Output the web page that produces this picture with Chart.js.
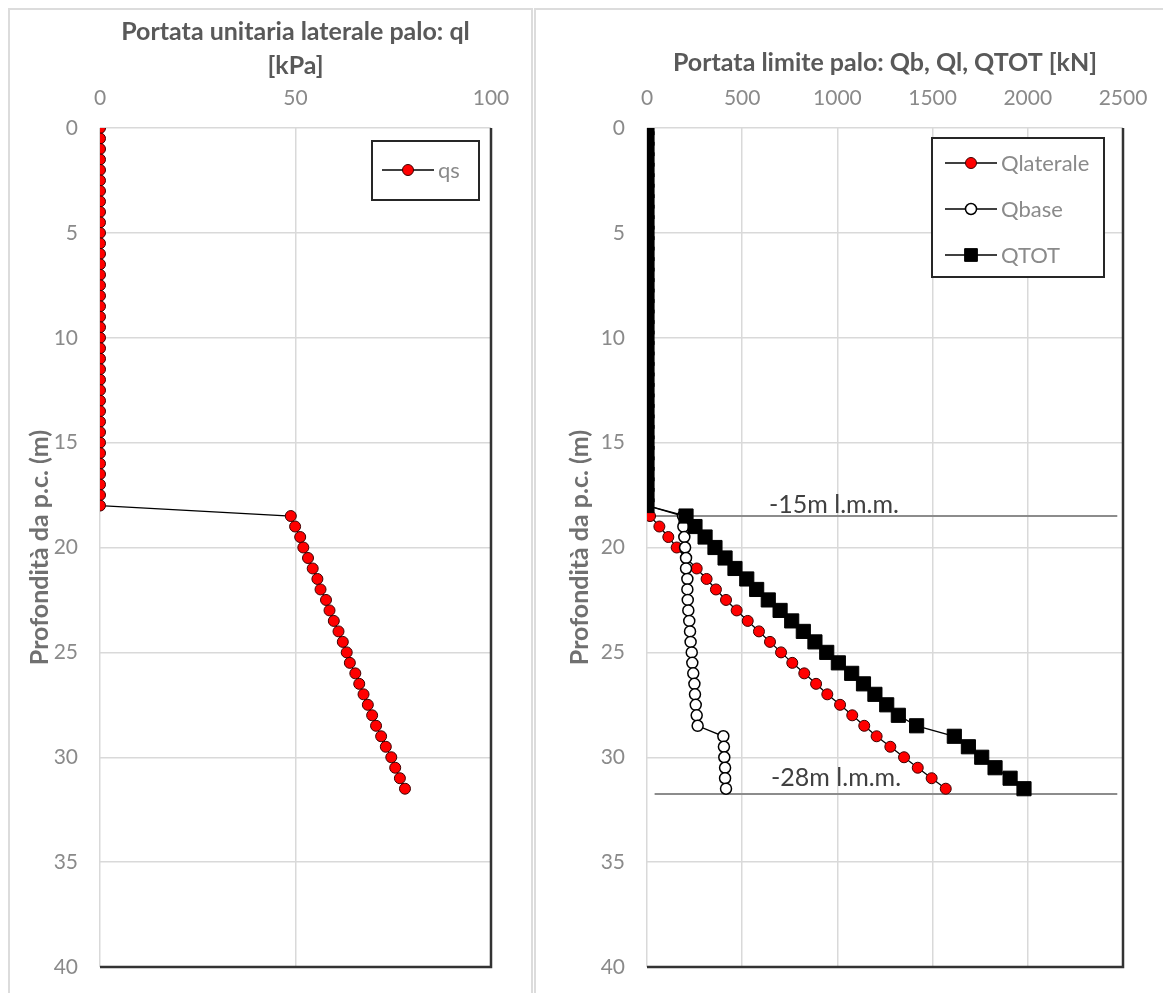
<!DOCTYPE html>
<html>
<head>
<meta charset="utf-8">
<script src="https://cdn.jsdelivr.net/npm/chart.js@4.4.1/dist/chart.umd.min.js"></script>
<style>
  html, body { margin: 0; padding: 0; background: #fff; }
  body { width: 1163px; height: 993px; position: relative; overflow: hidden; }
  .frame { position: absolute; top: 8px; height: 1000px; border: 2px solid #dcdcdc; box-sizing: border-box; }
  #frameL { left: 8px; width: 525px; }
  #frameR { left: 534px; width: 640px; }
  canvas { position: absolute; top: 0; }
  #cL { left: 0; }
  #cR { left: 535px; }
</style>
</head>
<body>
<div class="frame" id="frameL"></div>
<div class="frame" id="frameR"></div>
<canvas id="cL" width="533" height="993" style="width:533px;height:993px"></canvas>
<canvas id="cR" width="628" height="993" style="width:628px;height:993px"></canvas>
<script>
/* depth below ground level (m) */
const depth = [0, 0.5, 1, 1.5, 2, 2.5, 3, 3.5, 4, 4.5, 5, 5.5, 6, 6.5, 7, 7.5, 8, 8.5, 9, 9.5,
    10, 10.5, 11, 11.5, 12, 12.5, 13, 13.5, 14, 14.5, 15, 15.5, 16, 16.5, 17, 17.5, 18,
    18.5, 19, 19.5, 20, 20.5, 21, 21.5, 22, 22.5, 23, 23.5, 24, 24.5, 25, 25.5, 26, 26.5,
    27, 27.5, 28, 28.5, 29, 29.5, 30, 30.5, 31, 31.5];

/* left chart: unit shaft resistance [kPa] */
const qs = [0, 0, 0, 0, 0, 0, 0, 0, 0, 0, 0, 0, 0, 0, 0, 0, 0, 0, 0, 0,
    0, 0, 0, 0, 0, 0, 0, 0, 0, 0, 0, 0, 0, 0, 0, 0, 0,
    48.8, 49.9, 51.2, 52.0, 53.2, 54.4, 55.6, 56.4, 57.8, 58.7, 59.8, 61.0, 62.1, 63.1,
    63.9, 65.3, 66.3, 67.4, 68.5, 69.6, 70.6, 71.9, 73.1, 74.5, 75.5, 76.7, 78.0];

/* right chart: limit capacities [kN] */
const qLaterale = [0, 0, 0, 0, 0, 0, 0, 0, 0, 0, 0, 0, 0, 0, 0, 0, 0, 0, 0, 0,
    0, 0, 0, 0, 0, 0, 0, 0, 0, 0, 0, 0, 0, 0, 0, 0, 0,
    16, 65, 112, 156, 205, 261, 313, 362, 415, 471, 529, 588, 646, 704,
    763, 826, 888, 947, 1014, 1078, 1141, 1206, 1278, 1350, 1422, 1495, 1569];
const qBase = [0, 0, 0, 0, 0, 0, 0, 0, 0, 0, 0, 0, 0, 0, 0, 0, 0, 0, 0, 0,
    0, 0, 0, 0, 0, 0, 0, 0, 0, 0, 0, 0, 0, 0, 0, 0, 0,
    189, 191, 196, 200, 205, 205, 212, 212, 214, 217, 222, 226, 229, 235,
    238, 243, 249, 252, 256, 261, 266, 401, 404, 406, 410, 410, 415];
const qTot = [0, 0, 0, 0, 0, 0, 0, 0, 0, 0, 0, 0, 0, 0, 0, 0, 0, 0, 0, 0,
    0, 0, 0, 0, 0, 0, 0, 0, 0, 0, 0, 0, 0, 0, 0, 0, 0,
    205, 252, 305, 357, 410, 462, 524, 576, 637, 699, 760, 821, 882, 944,
    1005, 1075, 1137, 1197, 1259, 1320, 1416, 1614, 1688, 1758, 1828, 1907, 1980];

/* sea-level reference lines (depth, start/end capacity) and labels */
const refDepth = [18.5, 31.75];
const refFrom = [15, 40];
const refTo = [2470, 2470];
const refText = ['-15m l.m.m.', '-28m l.m.m.'];
const refTextX = [982, 993];
const refTextY = [17.95, 31.0];

const FONT = 'Lato, "Open Sans", sans-serif';
const pts = vals => vals.map((v, i) => ({ x: v, y: depth[i] }));

/* ── plot frame: dark axis lines on right and bottom ─────────────── */
const frameLines = {
    id: 'frameLines',
    beforeDatasetsDraw(chart) {
        const { ctx, chartArea: a } = chart;
        ctx.save();
        ctx.strokeStyle = '#333';
        ctx.lineWidth = 2.5;
        ctx.beginPath();
        ctx.moveTo(a.left, a.bottom);
        ctx.lineTo(a.right, a.bottom);
        ctx.lineTo(a.right, a.top);
        ctx.stroke();
        ctx.restore();
    }
};

/* ── text labels next to the reference lines ─────────────────────── */
const refLabels = {
    id: 'refLabels',
    afterDatasetsDraw(chart, args, opts) {
        if (!opts.text) return;
        const { ctx, scales } = chart;
        ctx.save();
        ctx.font = '25px ' + FONT;
        ctx.fillStyle = '#404040';
        ctx.textAlign = 'center';
        ctx.textBaseline = 'middle';
        opts.text.forEach((t, i) => {
            ctx.fillText(t, scales.x.getPixelForValue(opts.x[i]), scales.y.getPixelForValue(opts.y[i]));
        });
        ctx.restore();
    }
};

/* ── boxed legend inside the plot, Excel style ───────────────────── */
const boxLegend = {
    id: 'boxLegend',
    afterDraw(chart, args, opts) {
        const { ctx } = chart;
        const items = chart.data.datasets.filter(d => d.inLegend);
        const b = opts;
        ctx.save();
        ctx.strokeStyle = '#262626';
        ctx.lineWidth = 2;
        ctx.fillStyle = '#fff';
        ctx.fillRect(b.x, b.y, b.w, b.h);
        ctx.strokeRect(b.x, b.y, b.w, b.h);
        items.forEach((d, i) => {
            const cy = b.y + b.first + i * b.row;
            const x0 = b.x + b.pad;
            ctx.strokeStyle = d.borderColor;
            ctx.lineWidth = d.borderWidth;
            ctx.beginPath();
            ctx.moveTo(x0, cy);
            ctx.lineTo(x0 + 52, cy);
            ctx.stroke();
            ctx.fillStyle = d.pointBackgroundColor;
            ctx.strokeStyle = d.pointBorderColor;
            ctx.lineWidth = d.pointBorderWidth;
            Chart.helpers.drawPoint(ctx, {
                pointStyle: d.pointStyle, radius: d.legendRadius || d.pointRadius,
                rotation: 0, borderWidth: d.pointBorderWidth
            }, x0 + 26, cy);
            ctx.fillStyle = '#8a8a8a';
            ctx.font = '22px ' + FONT;
            ctx.textAlign = 'left';
            ctx.textBaseline = 'middle';
            ctx.fillText(d.label, x0 + 56, cy + 1);
        });
        ctx.restore();
    }
};

function depthChart(canvasId, cfg) {
    new Chart(document.getElementById(canvasId), {
        type: 'scatter',
        data: { datasets: cfg.datasets },
        options: {
            responsive: false,
            maintainAspectRatio: false,
            animation: false,
            layout: { padding: { left: 0, top: 0, right: cfg.padRight, bottom: 26 } },
            plugins: {
                legend: { display: false },
                tooltip: { enabled: false },
                boxLegend: cfg.legend,
                refLabels: cfg.refLabels || {}
            },
            scales: {
                x: {
                    type: 'linear',
                    position: 'top',
                    min: 0, max: cfg.xMax,
                    afterFit: s => { s.height = 128; s.paddingLeft = 0; s.paddingRight = 0; },
                    ticks: {
                        stepSize: cfg.xStep, padding: 17, color: '#8a8a8a',
                        font: { family: FONT, size: 21 }, callback: v => String(v)
                    },
                    grid: { color: '#d9d9d9', lineWidth: 1.5, drawTicks: false },
                    border: { display: false },
                    title: {
                        display: true,
                        text: cfg.title,
                        color: '#595959',
                        font: { family: FONT, size: 25, weight: 'bold', lineHeight: '34px' },
                        padding: { top: cfg.titleTop, bottom: 0 }
                    }
                },
                y: {
                    type: 'linear',
                    reverse: true,
                    min: 0, max: 40,
                    afterFit: s => { s.width = cfg.yWidth; s.paddingTop = 0; s.paddingBottom = 0; },
                    ticks: {
                        stepSize: 5, padding: 22, color: '#8a8a8a',
                        font: { family: FONT, size: 21 }, callback: v => String(v)
                    },
                    grid: { color: '#d9d9d9', lineWidth: 1.5, drawTicks: false },
                    border: { display: false },
                    title: {
                        display: true,
                        text: 'Profondità da p.c. (m)',
                        color: '#707070',
                        font: { family: FONT, size: 25, weight: 'bold', lineHeight: '30px' },
                        padding: { top: cfg.yTitleX - 15, bottom: 0 }
                    }
                }
            }
        },
        plugins: [frameLines, refLabels, boxLegend]
    });
}

const lineStyle = { showLine: true, borderColor: '#000', borderWidth: 1.3, pointBorderColor: '#000', pointBorderWidth: 1 };

/* ── left: unit lateral resistance ───────────────────────────────── */
depthChart('cL', {
    xMax: 100, xStep: 50, padRight: 42, yWidth: 100, yTitleX: 40, titleTop: 15,
    title: ['Portata unitaria laterale palo: ql', '[kPa]'],
    legend: { x: 372, y: 141, w: 107, h: 59, pad: 10, first: 29, row: 46 },
    datasets: [
        Object.assign({}, lineStyle, {
            label: 'qs', data: pts(qs), inLegend: true,
            pointStyle: 'circle', pointRadius: 5.5, pointBackgroundColor: '#ff0000', pointBorderColor: '#3a0000'
        })
    ]
});

/* ── right: limit capacities ─────────────────────────────────────── */
const refSets = refDepth.map((d, i) => ({
    label: refText[i], data: [{ x: refFrom[i], y: d }, { x: refTo[i], y: d }],
    showLine: true, borderColor: '#8c8c8c', borderWidth: 2, pointRadius: 0, order: 5
}));

depthChart('cR', {
    xMax: 2500, xStep: 500, padRight: 40, yWidth: 112, yTitleX: 45, titleTop: 46,
    title: 'Portata limite palo: Qb, Ql, QTOT [kN]',
    legend: { x: 397, y: 138, w: 172, h: 139, pad: 13, first: 25, row: 46 },
    refLabels: { text: refText, x: refTextX, y: refTextY },
    datasets: [
        Object.assign({}, lineStyle, {
            label: 'Qlaterale', data: pts(qLaterale), inLegend: true, order: 3,
            pointStyle: 'circle', pointRadius: 5.5, pointBackgroundColor: '#ff0000', pointBorderColor: '#3a0000'
        }),
        Object.assign({}, lineStyle, {
            label: 'Qbase', data: pts(qBase), inLegend: true, order: 2,
            pointStyle: 'circle', pointRadius: 5.5, pointBackgroundColor: '#fff', pointBorderWidth: 1.5
        }),
        Object.assign({}, lineStyle, {
            label: 'QTOT', data: pts(qTot), inLegend: true, order: 1,
            pointStyle: 'rect', pointRadius: 10, legendRadius: 9, pointBackgroundColor: '#000'
        }),
        ...refSets
    ]
});
</script>
</body>
</html>
